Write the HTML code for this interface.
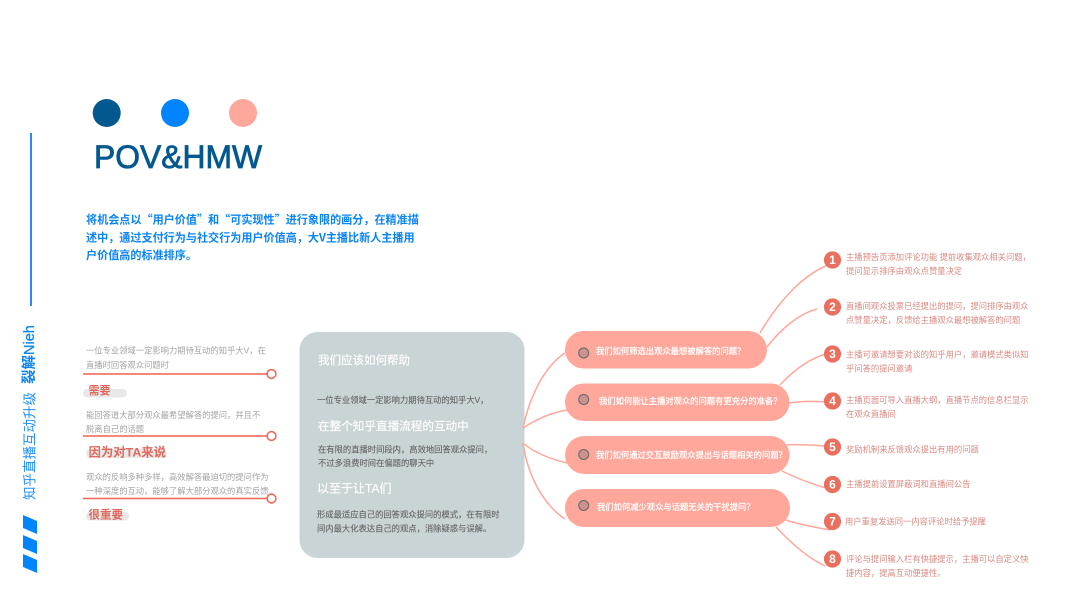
<!DOCTYPE html>
<html lang="zh">
<head>
<meta charset="utf-8">
<style>
html,body{margin:0;padding:0;background:#fff;width:1067px;height:600px;overflow:hidden}
svg{display:block}
text{font-family:"Liberation Sans","Noto Sans CJK SC",sans-serif;dominant-baseline:central}
.grey{font-size:8.3px;fill:#a3a3a3}
.lab{font-size:11.5px;font-weight:700;fill:#e0695c}
.w{font-size:11.6px;fill:#fff;stroke:#fff;stroke-width:.15}
.d{font-size:8.3px;fill:#666;stroke:#666;stroke-width:.12}
.q{font-size:8.3px;fill:#fff;stroke:#fff;stroke-width:.22}
.r{font-size:8.3px;fill:#d98a82}
.n{font-size:12px;font-weight:700;fill:#fff;text-anchor:middle}
.b{font-size:11.1px;font-weight:700;fill:#0a84f5;font-family:"Noto Sans CJK SC",sans-serif}
.c{fill:none;stroke:#ffa79b;stroke-width:1.5}
</style>
</head>
<body>
<svg width="1067" height="600" viewBox="0 0 1067 600" xmlns="http://www.w3.org/2000/svg">
<rect width="1067" height="600" fill="#fff"/>

<circle cx="106.7" cy="113" r="14" fill="#03588f"/>
<circle cx="175" cy="113" r="14" fill="#0085ff"/>
<circle cx="243" cy="113" r="14" fill="#ffa79b"/>
<text x="94" y="157" font-size="32" fill="#03588f" stroke="#03588f" stroke-width=".8" textLength="168" lengthAdjust="spacingAndGlyphs">POV&amp;HMW</text>

<text class="b" x="86" y="219.5">将机会点以“用户价值”和“可实现性”进行象限的画分，在精准描</text>
<text class="b" x="86" y="237.5">述中，通过支付行为与社交行为用户价值高，大V主播比新人主播用</text>
<text class="b" x="86" y="255">户价值高的标准排序。</text>

<rect x="30" y="133" width="2" height="173" fill="#1e8fff"/>
<text transform="translate(30 500) rotate(-90)" font-size="13.5" fill="#1e8fff">知乎直播互动升级</text>
<text transform="translate(30 384) rotate(-90)" font-size="14.5" fill="#0a84f5"><tspan font-weight="700">裂解</tspan><tspan stroke="#0a84f5" stroke-width=".3">Nieh</tspan></text>
<polygon points="23,515 37,521 37,534 23,528" fill="#0085ff"/>
<polygon points="23,535 37,541 37,554 23,548" fill="#0085ff"/>
<polygon points="23,554 37,560 37,573 23,567" fill="#0085ff"/>

<text class="grey" x="86" y="350.5">一位专业领域一定影响力期待互动的知乎大V，在</text>
<text class="grey" x="86" y="365">直播时回答观众问题时</text>
<rect x="83" y="373.2" width="186" height="1.6" fill="#ee6a5a"/>
<circle cx="271.5" cy="374" r="4.4" fill="#fff" stroke="#ee6a5a" stroke-width="1.6"/>
<rect x="83" y="389" width="44" height="8.5" rx="4.2" fill="#e8e8e8"/>
<text class="lab" x="88.5" y="391" style="font-size:11px">需要</text>

<text class="grey" x="86" y="415">能回答道大部分观众最希望解答的提问，并且不</text>
<text class="grey" x="86" y="429">脱离自己的话题</text>
<rect x="83" y="435.2" width="186" height="1.6" fill="#ee6a5a"/>
<circle cx="271.5" cy="436" r="4.4" fill="#fff" stroke="#ee6a5a" stroke-width="1.6"/>
<rect x="86" y="449" width="81" height="9" rx="4.5" fill="#e8e8e8"/>
<text class="lab" x="88.5" y="452.5" style="font-size:12.4px">因为对TA来说</text>

<text class="grey" x="86" y="477">观众的反响多种多样，高效解答最迫切的提问作为</text>
<text class="grey" x="86" y="491">一种深度的互动，能够了解大部分观众的真实反馈</text>
<rect x="83" y="497.7" width="186" height="1.6" fill="#ee6a5a"/>
<circle cx="271.5" cy="498.5" r="4.4" fill="#fff" stroke="#ee6a5a" stroke-width="1.6"/>
<rect x="86" y="512" width="43" height="8.5" rx="4.2" fill="#e8e8e8"/>
<text class="lab" x="88.5" y="515.5">很重要</text>

<rect x="299.5" y="332" width="225" height="226" rx="18" fill="#c9d4d7"/>
<text class="w" x="318" y="361" style="font-size:11.5px">我们应该如何帮助</text>
<text class="d" x="317" y="400">一位专业领域一定影响力期待互动的知乎大V，</text>
<text class="w" x="318" y="426.5">在整个知乎直播流程的互动中</text>
<text class="d" x="318" y="449.5">在有限的直播时间段内，高效地回答观众提问，</text>
<text class="d" x="318" y="463">不过多浪费时间在偏题的聊天中</text>
<text class="w" x="317" y="488.5" style="font-size:12px">以至于让TA们</text>
<text class="d" x="317" y="514.5">形成最适应自己的回答观众提问的模式，在有限时</text>
<text class="d" x="317" y="528.5">间内最大化表达自己的观点，消除疑惑与误解。</text>

<path class="c" d="M523 428C530 395 545 366 565 353"/>
<path class="c" d="M523 428C535 420 550 413 567 410"/>
<path class="c" d="M523 443C533 452 550 459 567 463"/>
<path class="c" d="M523 443C528 478 545 506 565 519"/>

<path class="c" d="M760 333C778 302 802 276 826 266"/>
<path class="c" d="M767 347C780 330 798 314 817 309"/>
<path class="c" d="M780 385C793 371 808 359 826 354"/>
<path class="c" d="M789 403C802 401 815 401 826 402"/>
<path class="c" d="M787 445C800 444 812 445 824 446"/>
<path class="c" d="M782 471C796 478 812 484 826 488"/>
<path class="c" d="M786 520C800 525 815 527 830 530"/>
<path class="c" d="M776 527C790 542 808 558 825 566"/>

<rect x="565" y="331" width="202" height="37.5" rx="18.7" fill="#ffa79b"/>
<rect x="565" y="383.5" width="224.5" height="37.5" rx="18.7" fill="#ffa79b"/>
<rect x="565" y="436" width="224.5" height="38" rx="19" fill="#ffa79b"/>
<rect x="565" y="489" width="225" height="38" rx="19" fill="#ffa79b"/>
<g fill="#c9938f" stroke="#666" stroke-width="1">
<circle cx="583.7" cy="353" r="5"/>
<circle cx="583.7" cy="399.5" r="5"/>
<circle cx="583.7" cy="454.5" r="5"/>
<circle cx="583.7" cy="505.5" r="5"/>
</g>
<text class="q" x="596" y="351">我们如何筛选出观众最想被解答的问题？</text>
<text class="q" x="599" y="401">我们如何能让主播对观众的问题有更充分的准备？</text>
<text class="q" x="596" y="455">我们如何通过交互鼓励观众提出与话题相关的问题？</text>
<text class="q" x="597" y="507">我们如何减少观众与话题无关的干扰提问？</text>

<g fill="#e96f5f">
<circle cx="832.5" cy="260" r="8.6"/>
<circle cx="832.5" cy="307" r="8.6"/>
<circle cx="832.5" cy="354" r="8.6"/>
<circle cx="832.5" cy="401" r="8.6"/>
<circle cx="832.5" cy="447" r="8.6"/>
<circle cx="832.5" cy="484.5" r="8.6"/>
<circle cx="832.5" cy="521.5" r="8.6"/>
<circle cx="832.5" cy="559" r="8.6"/>
</g>
<text class="n" x="832.5" y="260">1</text>
<text class="n" x="832.5" y="307">2</text>
<text class="n" x="832.5" y="354">3</text>
<text class="n" x="832.5" y="401">4</text>
<text class="n" x="832.5" y="447">5</text>
<text class="n" x="832.5" y="484.5">6</text>
<text class="n" x="832.5" y="521.5">7</text>
<text class="n" x="832.5" y="559">8</text>

<text class="r" x="846" y="257">主播预告页添加评论功能 提前收集观众相关问题，</text>
<text class="r" x="846" y="271">提问显示排序由观众点赞量决定</text>
<text class="r" x="846" y="306">直播间观众投票已经提出的提问，提问排序由观众</text>
<text class="r" x="846" y="320">点赞量决定，反馈给主播观众最想被解答的问题</text>
<text class="r" x="846" y="354.5">主播可邀请想要对谈的知乎用户，邀请模式类似知</text>
<text class="r" x="846" y="368.5">乎问答的提问邀请</text>
<text class="r" x="846" y="400">主播页面可导入直播大纲，直播节点的信息栏显示</text>
<text class="r" x="846" y="414">在观众直播间</text>
<text class="r" x="846" y="449.5">奖励机制来反馈观众提出有用的问题</text>
<text class="r" x="846" y="484">主播提前设置屏蔽词和直播间公告</text>
<text class="r" x="845" y="521.5">用户重复发送同一内容评论时给予提醒</text>
<text class="r" x="846" y="559">评论与提问输入栏有快捷提示，主播可以自定义快</text>
<text class="r" x="846" y="573">捷内容，提高互动便捷性。</text>
</svg>
</body>
</html>
